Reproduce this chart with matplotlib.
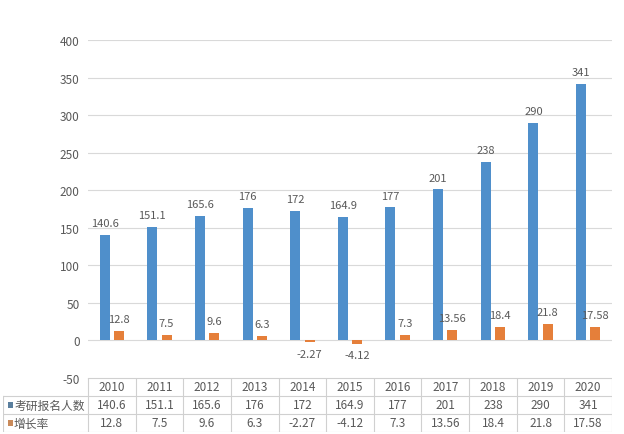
import matplotlib.pyplot as plt
import numpy as np

plt.rcParams['font.family'] = ['Noto Sans CJK SC', 'DejaVu Sans']
plt.rcParams['axes.unicode_minus'] = False

years = ["2010", "2011", "2012", "2013", "2014", "2015", "2016", "2017", "2018", "2019", "2020"]
applicants = [140.6, 151.1, 165.6, 176, 172, 164.9, 177, 201, 238, 290, 341]
growth = [12.8, 7.5, 9.6, 6.3, -2.27, -4.12, 7.3, 13.56, 18.4, 21.8, 17.58]
applicant_labels = ["140.6", "151.1", "165.6", "176", "172", "164.9", "177", "201", "238", "290", "341"]
growth_labels = ["12.8", "7.5", "9.6", "6.3", "-2.27", "-4.12", "7.3", "13.56", "18.4", "21.8", "17.58"]
series_names = ["考研报名人数", "增长率"]

blue = "#4f8fcb"
orange = "#e57f3a"
txt = "#595959"
grid = "#d9d9d9"

W, H = 624, 435
fig = plt.figure(figsize=(W / 100, H / 100), dpi=100)

# plot area in pixels
px_left, px_right, px_top, px_bot = 88, 612, 41, 379
ax = fig.add_axes([px_left / W, 1 - px_bot / H, (px_right - px_left) / W, (px_bot - px_top) / H])

x = np.arange(len(years))
bw = 0.21
off = 0.15
ax.bar(x - off, applicants, bw, color=blue, zorder=3)
ax.bar(x + off, growth, bw, color=orange, zorder=3)

for xi, v, lab in zip(x, applicants, applicant_labels):
    ax.annotate(lab, (xi - off, v), xytext=(0, 5), textcoords="offset points",
                ha="center", va="bottom", fontsize=8, color=txt)
for xi, v, lab in zip(x, growth, growth_labels):
    if v >= 0:
        ax.annotate(lab, (xi + off, v), xytext=(0, 5), textcoords="offset points",
                    ha="center", va="bottom", fontsize=8, color=txt)
    else:
        ax.annotate(lab, (xi + off, v), xytext=(0, -5), textcoords="offset points",
                    ha="center", va="top", fontsize=8, color=txt)

ax.set_xlim(-0.5, len(years) - 0.5)
ax.set_ylim(-50, 400)
ax.set_yticks(np.arange(-50, 401, 50))
ax.tick_params(axis="y", length=0, labelsize=8.5, labelcolor=txt, pad=6)
ax.set_xticks([])
ax.yaxis.grid(True, color=grid, linewidth=0.8, zorder=0)
for s in ax.spines.values():
    s.set_visible(False)

# data table below the plot
n = len(years)
colw = (px_right - px_left) / n
tab_left, tab_bot = 3, 433
tab = fig.add_axes([tab_left / W, 1 - tab_bot / H, (px_right - tab_left) / W, (tab_bot - px_bot) / H])
xl = -0.5 - (px_left - tab_left) / colw
tab.set_xlim(xl, n - 0.5)
tab.set_ylim(3, 0)
tab.axis("off")

lc = "#d0d0d0"
tab.plot([-0.5, n - 0.5], [0, 0], color=lc, lw=0.8)
for r in [1, 2, 3]:
    tab.plot([xl, n - 0.5], [r, r], color=lc, lw=0.8)
for c in range(n + 1):
    tab.plot([c - 0.5, c - 0.5], [0, 3], color=lc, lw=0.8)
tab.plot([xl, xl], [1, 3], color=lc, lw=0.8)

for i in range(n):
    tab.text(i, 0.5, years[i], ha="center", va="center", fontsize=8.5, color=txt)
    tab.text(i, 1.5, applicant_labels[i], ha="center", va="center", fontsize=8.5, color=txt)
    tab.text(i, 2.5, growth_labels[i], ha="center", va="center", fontsize=8.5, color=txt)

key_w = 5 / colw
for r, (name, col) in enumerate(zip(series_names, ["#5a7f9e", "#c98a5a"])):
    tab.add_patch(plt.Rectangle((xl + 5 / colw, r + 1.5 - 0.15), key_w, 0.3, color=col, lw=0))
    tab.text(xl + 11 / colw, r + 1.5, name, ha="left", va="center", fontsize=8.5, color=txt)

fig.savefig("out.png", dpi=100)
